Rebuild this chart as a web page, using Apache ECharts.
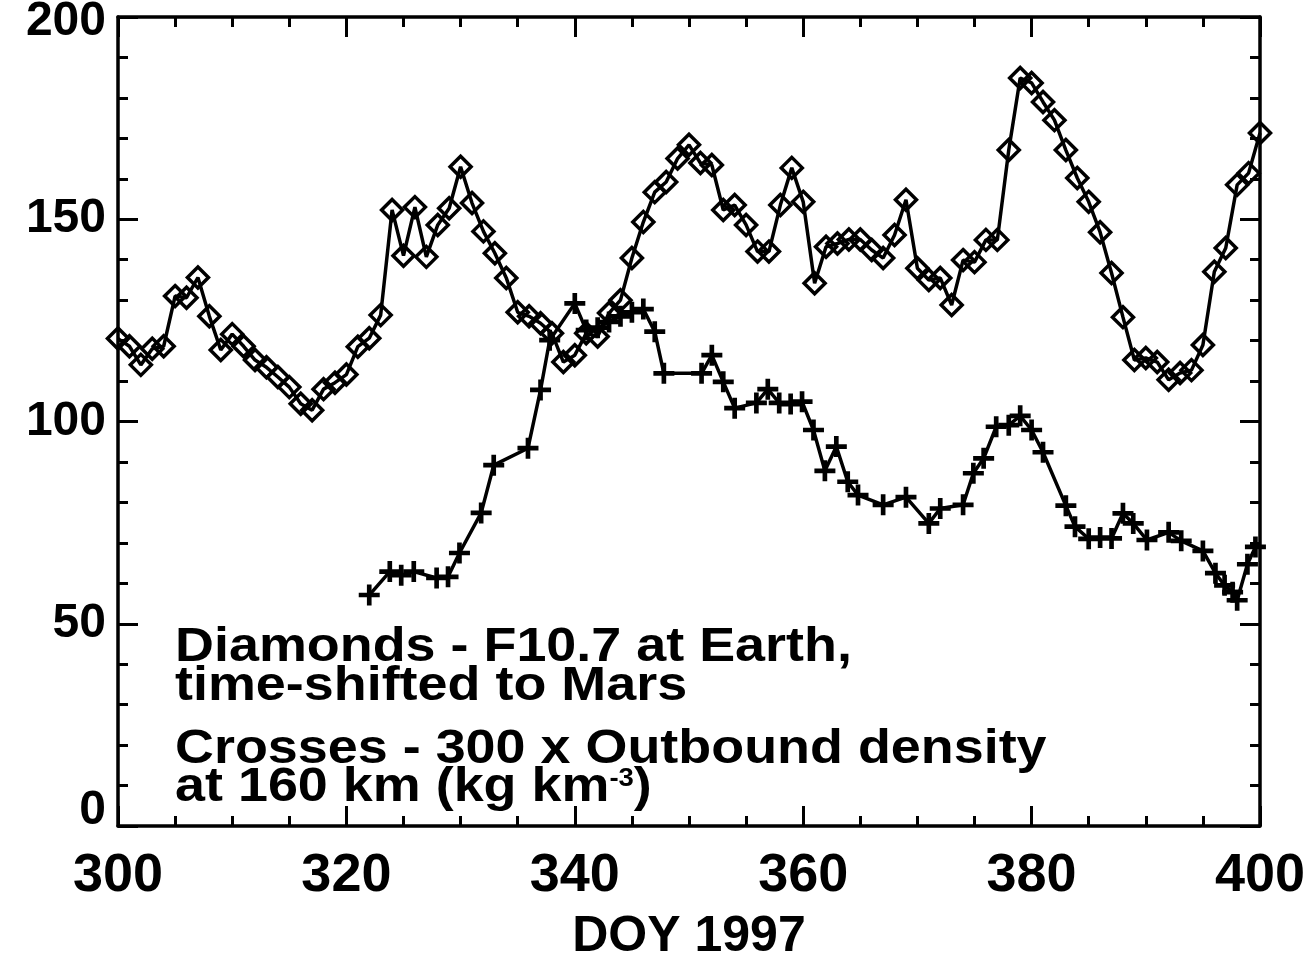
<!DOCTYPE html>
<html>
<head>
<meta charset="utf-8">
<script src="https://cdn.jsdelivr.net/npm/echarts@6/dist/echarts.min.js"></script>
<style>
  html, body { margin: 0; padding: 0; background: #fff; }
  #chart { width: 1311px; height: 956px; }
</style>
</head>
<body>
<div id="chart"></div>
<script>
// F10.7 at Earth, time-shifted to Mars (diamonds), one value per day
const f107Days = [
  300, 301, 302, 303, 304, 305, 306, 307, 308, 309,
  310, 311, 312, 313, 314, 315, 316, 317, 318, 319,
  320, 321, 322, 323, 324, 325, 326, 327, 328, 329,
  330, 331, 332, 333, 334, 335, 336, 337, 338, 339,
  340, 341, 342, 343, 344, 345, 346, 347, 348, 349,
  350, 351, 352, 353, 354, 355, 356, 357, 358, 359,
  360, 361, 362, 363, 364, 365, 366, 367, 368, 369,
  370, 371, 372, 373, 374, 375, 376, 377, 378, 379,
  380, 381, 382, 383, 384, 385, 386, 387, 388, 389,
  390, 391, 392, 393, 394, 395, 396, 397, 398, 399,
  400
];
const f107Values = [
  120.5, 118.6, 114.0, 118.0, 118.6, 131.0, 130.6, 135.6, 126.0, 117.7,
  121.6, 118.6, 115.2, 113.4, 111.0, 108.5, 104.4, 102.8, 108.0, 109.6,
  111.6, 118.5, 120.6, 126.3, 152.3, 141.0, 153.0, 140.7, 148.6, 152.7,
  163.0, 154.0, 147.0, 141.6, 135.5, 127.0, 126.0, 124.3, 121.8, 114.7,
  116.4, 121.8, 121.0, 126.8, 130.0, 140.4, 149.3, 156.7, 159.2, 165.0,
  168.4, 163.9, 163.4, 152.3, 153.5, 148.6, 142.0, 142.0, 153.5, 162.7,
  154.3, 134.2, 143.2, 144.0, 145.0, 145.0, 142.4, 140.4, 146.1, 154.8,
  137.9, 135.0, 135.5, 128.8, 139.9, 139.4, 144.9, 144.9, 167.1, 184.9,
  183.7, 179.0, 174.5, 167.1, 160.2, 154.3, 146.8, 136.7, 125.8, 115.2,
  115.7, 114.7, 110.3, 112.0, 112.7, 118.9, 137.0, 142.9, 158.5, 161.4,
  171.3
];

// 300 x outbound density at 160 km (crosses), one value per orbit
const densityDays = [
  322.0, 323.8, 324.8, 325.9, 327.9, 328.9, 329.9, 331.8, 332.9, 335.9,
  337.0, 337.8, 340.0, 341.0, 342.0, 343.0, 344.0, 345.0, 346.0, 347.0,
  347.8, 351.1, 352.0, 353.0, 354.0, 355.9, 356.9, 357.9, 358.9, 359.9,
  360.9, 361.9, 362.9, 363.9, 364.8, 367.0, 369.0, 371.0, 372.0, 374.0,
  374.9, 375.8, 376.9, 378.0, 379.0, 380.0, 381.0, 383.0, 383.8, 385.0,
  386.0, 387.0, 388.0, 388.9, 390.1, 392.0, 393.1, 395.0, 396.1, 396.9,
  397.6, 398.0, 398.9, 399.6
];
const densityValues = [
  57.1, 62.9, 62.0, 62.9, 61.3, 61.6, 67.5, 77.4, 89.2, 93.4,
  107.8, 120.1, 129.2, 122.6, 123.2, 124.6, 126.0, 127.0, 127.8, 122.2,
  111.9, 111.9, 116.4, 109.8, 103.3, 104.6, 108.0, 104.6, 104.3, 104.9,
  97.9, 87.8, 93.8, 85.1, 81.8, 79.4, 81.3, 74.8, 78.5, 79.4,
  87.2, 90.9, 98.7, 99.1, 101.4, 97.9, 92.4, 79.2, 74.0, 71.0,
  71.3, 71.1, 77.3, 74.8, 70.7, 72.6, 70.5, 68.0, 62.5, 59.5,
  57.8, 55.8, 64.7, 69.0
];

const noteLines = [
  'Diamonds - F10.7 at Earth,',
  'time-shifted to Mars',
  'Crosses - 300 x Outbound density',
  '{n|at 160 km (kg km}{s|-3}{n|)}'
];

const FONT = "'Liberation Sans', Arial, Helvetica, sans-serif";
const chart = echarts.init(document.getElementById('chart'), null, { renderer: 'canvas' });

const axisCommon = {
  axisLine: { show: true, onZero: false, lineStyle: { color: '#000', width: 3.5 } },
  axisTick: { show: true, inside: true, length: 20, lineStyle: { color: '#000', width: 3 } },
  minorTick: { show: true, length: 10, lineStyle: { color: '#000', width: 3 } },
  splitLine: { show: false },
  minorSplitLine: { show: false }
};

const xBase = Object.assign({ type: 'value', min: 300, max: 400, interval: 20 }, axisCommon);
xBase.minorTick = Object.assign({ splitNumber: 4 }, axisCommon.minorTick);
const yBase = Object.assign({ type: 'value', min: 0, max: 200, interval: 50 }, axisCommon);
yBase.minorTick = Object.assign({ splitNumber: 5 }, axisCommon.minorTick);

const labelStyle = { color: '#000', fontFamily: FONT, fontWeight: 'bold' };
const yFont = { fontSize: 48, fontWeight: 'bold', fontFamily: FONT, color: '#000' };

const noteStyle = (txt, y) => ({
  type: 'text',
  left: 175,
  top: y,
  scaleX: 1.1,
  z: 10,
  style: {
    text: txt,
    fill: '#000',
    font: `bold 49px ${FONT}`,
    rich: {
      n: { fontSize: 49, fontWeight: 'bold', fontFamily: FONT, color: '#000' },
      s: { fontSize: 25, fontWeight: 'bold', fontFamily: FONT, color: '#000', verticalAlign: 'top', padding: [4, 0, 18, 0] }
    }
  }
});

const option = {
  animation: false,
  backgroundColor: '#fff',
  grid: { left: 118, right: 51, top: 17, bottom: 130, outerBoundsMode: 'none', containLabel: false },
  xAxis: [
    Object.assign({}, xBase, {
      position: 'bottom',
      axisLabel: Object.assign({ fontSize: 54, margin: 23 }, labelStyle),
      name: 'DOY 1997',
      nameLocation: 'middle',
      nameGap: 86,
      nameTextStyle: Object.assign({ fontSize: 50 }, labelStyle)
    }),
    Object.assign({}, xBase, { position: 'top', axisLabel: { show: false } })
  ],
  yAxis: [
    Object.assign({}, yBase, {
      position: 'left',
      axisLabel: Object.assign({
        fontSize: 48,
        margin: 12,
        formatter: v => (v === 0 ? '{lo|0}' : v === 200 ? '{hi|200}' : String(v)),
        rich: {
          lo: Object.assign({ padding: [0, 0, 30, 0] }, yFont),
          hi: Object.assign({ padding: [10, 0, 0, 0] }, yFont)
        }
      }, labelStyle)
    }),
    Object.assign({}, yBase, { position: 'right', axisLabel: { show: false } })
  ],
  graphic: [
    noteStyle(noteLines[0], 623),
    noteStyle(noteLines[1], 662),
    noteStyle(noteLines[2], 725),
    noteStyle(noteLines[3], 763)
  ],
  series: [
    {
      name: 'F10.7',
      type: 'line',
      data: f107Days.map((d, i) => [d, f107Values[i]]),
      symbol: 'diamond',
      symbolSize: 21,
      showAllSymbol: true,
      itemStyle: { color: 'rgba(0,0,0,0)', borderColor: '#000', borderWidth: 3.5 },
      lineStyle: { color: '#000', width: 3.5 }
    },
    {
      name: 'Density',
      type: 'line',
      data: densityDays.map((d, i) => [d, densityValues[i]]),
      symbol: 'path://M7,0H11V7H18V11H11V18H7V11H0V7H7Z',
      symbolSize: 21,
      showAllSymbol: true,
      itemStyle: { color: '#000' },
      lineStyle: { color: '#000', width: 3.5 }
    }
  ]
};

chart.setOption(option);
</script>
</body>
</html>
